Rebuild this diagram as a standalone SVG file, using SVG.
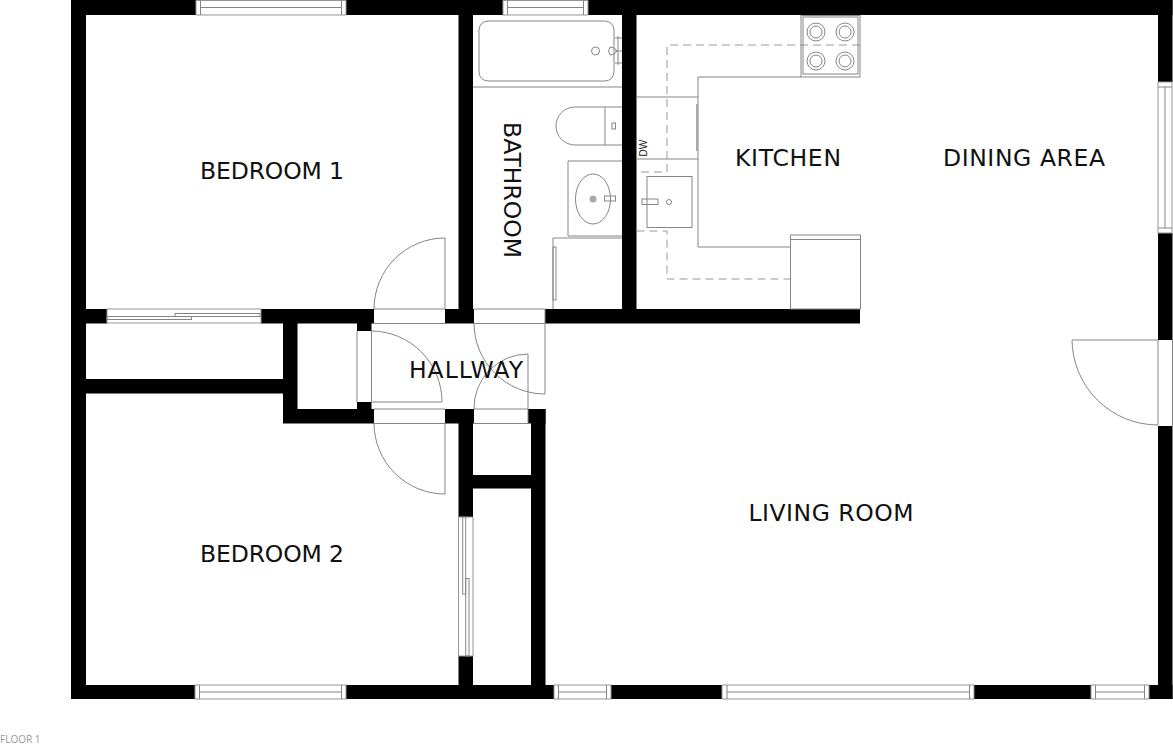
<svg xmlns="http://www.w3.org/2000/svg" width="1173" height="744" viewBox="0 0 1173 744">
<style>
.w{fill:#000}
.l{fill:none;stroke:#858585;stroke-width:1}
.f{fill:#fff;stroke:#959595;stroke-width:1}
.d{fill:none;stroke:#999;stroke-width:1;stroke-dasharray:8 5}
.t{font-family:"DejaVu Sans",sans-serif;font-size:23.500px;fill:#111;text-anchor:middle}
</style>
<rect width="1173" height="744" fill="#fff"/>
<g id="walls" class="w">
<rect x="71" y="0" width="125" height="15"/>
<rect x="346" y="0" width="157" height="15"/>
<rect x="588" y="0" width="584.500" height="15"/>
<rect x="71" y="0" width="15" height="699"/>
<rect x="71" y="685" width="125" height="14"/>
<rect x="346" y="685" width="208" height="14"/>
<rect x="611" y="685" width="111" height="14"/>
<rect x="974" y="685" width="117" height="14"/>
<rect x="1149" y="685" width="23.500" height="14"/>
<rect x="1158" y="0" width="14.500" height="82"/>
<rect x="1158" y="233" width="14.500" height="107"/>
<rect x="1158" y="426" width="14.500" height="273"/>
<rect x="458.500" y="15" width="14.500" height="308"/>
<rect x="622" y="15" width="14.500" height="308"/>
<rect x="86" y="309" width="21" height="14.500"/>
<rect x="261" y="309" width="113" height="14.500"/>
<rect x="445" y="309" width="29" height="14.500"/>
<rect x="545" y="309" width="315" height="14.500"/>
<rect x="283" y="309" width="14.500" height="114"/>
<rect x="86" y="379" width="197" height="14.500"/>
<rect x="357" y="323" width="14.500" height="8"/>
<rect x="357" y="402" width="14.500" height="7"/>
<rect x="283" y="409" width="91" height="14.500"/>
<rect x="445" y="409" width="29" height="14.500"/>
<rect x="528" y="409" width="17.500" height="14.500"/>
<rect x="458.500" y="423" width="14.500" height="94"/>
<rect x="458.500" y="656" width="14.500" height="29"/>
<rect x="531" y="409" width="14.500" height="276"/>
<rect x="473" y="475" width="58" height="13.500"/>
</g>
<g id="windows">
<g id="window-top-1"><rect class="f" x="196" y="0.500" width="150" height="14.500"/><path class="l" d="M200.500 0V15M341.500 0V15M200.500 7.500H341.500"/></g>
<g id="window-top-2"><rect class="f" x="503" y="0.500" width="85" height="14.500"/><path class="l" d="M507.500 0V15M583.500 0V15M507.500 7.500H583.500"/></g>
<g id="window-bottom-1"><rect class="f" x="195" y="685" width="151" height="14"/><path class="l" d="M199.500 685V699M341.500 685V699M199.500 692H341.500"/></g>
<g id="window-bottom-2"><rect class="f" x="554" y="685" width="57" height="14"/><path class="l" d="M558.500 685V699M606.500 685V699M558.500 692H606.500"/></g>
<g id="window-bottom-3"><rect class="f" x="722" y="685" width="252" height="14"/><path class="l" d="M727 685V699M969.500 685V699M727 692H969.500"/></g>
<g id="window-bottom-4"><rect class="f" x="1091" y="685" width="58" height="14"/><path class="l" d="M1095.500 685V699M1144.500 685V699M1095.500 692H1144.500"/></g>
<g id="window-right"><rect class="f" x="1158" y="82" width="14" height="151"/><path class="l" d="M1158 87H1172M1158 228H1172M1165 87V228"/></g>
</g>
<g id="sliding-doors">
<g id="slider-bedroom-1"><rect class="f" x="107" y="309" width="154" height="14"/><rect class="l" x="107" y="316.500" width="84.500" height="3"/><rect class="l" x="175" y="313.500" width="85" height="3"/></g>
<g id="slider-bedroom-2"><rect class="f" x="458.500" y="517" width="14.500" height="139"/><rect class="l" x="462.700" y="517" width="3" height="77"/><rect class="l" x="465.700" y="578.500" width="3.300" height="77.500"/></g>
</g>
<g id="doors">
<g id="door-bedroom-1"><path class="l" d="M445 309V238A71 71 0 0 0 374 309M374 309H445M374 323.500H445"/></g>
<g id="door-closet"><path class="l" d="M357 331V402M371.500 331V402H442A71 71 0 0 0 371.500 331"/></g>
<g id="door-bedroom-2"><path class="l" d="M445 423V494A71 71 0 0 1 374 423M374 409H445M374 423.500H445"/></g>
<g id="door-bathroom"><path class="l" d="M545 309V394A71 71 0 0 1 474 323M474 309H545M474 323.500H545"/></g>
<g id="door-hall-closet"><path class="l" d="M528 423.500V354A54 54 0 0 0 474 409M474 409H528M474 423.500H528"/></g>
<g id="door-entry"><path class="l" d="M1158 340V425A86 86 0 0 1 1072 340H1158M1172.500 340V426"/></g>
</g>
<g id="bathroom-fixtures">
<g id="tub"><rect class="l" x="479" y="21" width="135" height="60" rx="9"/><circle class="l" cx="595.500" cy="51" r="4"/><path class="l" d="M610 47Q615 47 617 51Q615 55 610 55Q607 51 610 47ZM618 36V65M615 38H622M615 51H622M615 63H622"/></g>
<path class="l" d="M473 87H622"/>
<g id="toilet"><path class="l" d="M622 107H575A19 19 0 0 0 575 145H622M605 107V145"/><rect class="l" x="612" y="123" width="3.500" height="6"/></g>
<g id="vanity"><path class="l" d="M622 161H568V236H622"/><ellipse class="l" cx="593" cy="199" rx="17.500" ry="25"/><circle cx="593" cy="199" r="3.500" fill="#aaa"/><rect class="l" x="604.500" y="196" width="11" height="5"/></g>
<g id="bath-closet"><path class="l" d="M622 238H553V309"/><rect class="l" x="553" y="247" width="3" height="53"/></g>
</g>
<g id="kitchen-fixtures">
<path class="l" d="M636.500 97H698M801 77H698V247H790M636.500 159H698"/>
<rect x="696" y="104" width="2" height="47" fill="#aaa"/>
<path class="d" d="M860 45H667V172H636.500"/>
<path class="d" d="M636.500 231H667V279H790"/>
<g id="stove"><rect class="l" x="801" y="15.500" width="59" height="61.500"/><rect class="l" x="803" y="17" width="55" height="57"/><g class="l"><circle cx="816" cy="32" r="9"/><circle cx="816" cy="32" r="6"/><circle cx="845" cy="32" r="9"/><circle cx="845" cy="32" r="6"/><circle cx="816" cy="61" r="9"/><circle cx="816" cy="61" r="6"/><circle cx="845" cy="61" r="9"/><circle cx="845" cy="61" r="6"/></g></g>
<g id="sink"><rect class="l" x="647" y="176.500" width="45" height="51"/><rect class="l" x="642" y="199" width="16" height="5.500"/><circle class="l" cx="669" cy="202" r="2.500"/></g>
<g id="fridge"><rect class="l" x="790.500" y="235" width="70" height="74"/><path class="l" d="M790.500 239.500H860.500"/></g>
<text id="label-dw" transform="translate(647 156.500) rotate(-90)" style="font-family:'Liberation Sans',sans-serif;font-size:10px;fill:#222">DW</text>
</g>
<g id="labels">
<text class="t" x="272" y="179" textLength="144" lengthAdjust="spacing">BEDROOM 1</text>
<text class="t" x="272" y="562" textLength="144" lengthAdjust="spacing">BEDROOM 2</text>
<text class="t" transform="translate(504 190) rotate(90)" textLength="136" lengthAdjust="spacing">BATHROOM</text>
<text class="t" x="788" y="166" textLength="106" lengthAdjust="spacing">KITCHEN</text>
<text class="t" x="1024" y="165.500" textLength="162" lengthAdjust="spacing">DINING AREA</text>
<text class="t" x="466" y="377.500" textLength="114" lengthAdjust="spacing">HALLWAY</text>
<text class="t" x="831" y="520.500" textLength="165" lengthAdjust="spacing">LIVING ROOM</text>
<text id="floor-label" x="0" y="743" style="font-family:'Open Sans',sans-serif;font-size:10px;fill:#999">FLOOR 1</text>
</g>
</svg>
